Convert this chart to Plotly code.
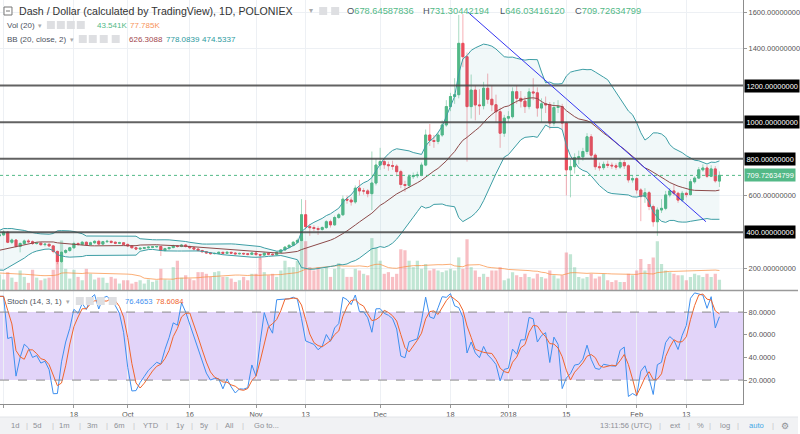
import pandas as pd
import plotly.graph_objects as go

# ---------------- data (daily, 2017-08-13 .. 2018-02-21) ----------------
start_date = "2017-08-13"
end_date = "2018-02-21"

opens = [
    205, 215, 225, 230, 250, 240, 245, 265, 290, 300, 310, 320, 330, 335, 340, 345, 350, 370, 380,
    385, 400, 345, 357, 322, 338, 352, 348, 338, 340, 332, 334, 325, 295, 240, 290, 300, 315, 338, 333,
    345, 332, 342, 350, 335, 348, 350, 345, 340, 342,
    333, 325, 315, 308, 312, 315, 318, 320, 322, 300, 310, 316, 325, 322, 330, 322, 315, 308, 300, 293,
    287, 283, 284, 290, 285, 290, 286, 282, 284, 282, 279,
    286, 278, 275, 285, 280, 277, 290, 303, 318, 328, 345, 355, 495, 430, 425, 420, 415, 425, 457, 440,
    480, 495, 580, 575, 565, 640, 625, 625, 610, 668,
    766, 785, 768, 763, 760, 730, 660, 655, 703, 708, 712, 766, 930, 900, 895, 930, 985, 1085, 1140, 1150,
    1430, 1357, 1085, 1175, 1094, 1090, 1185, 1125, 1095, 1057, 940,
    1022, 1030, 1166, 1130, 1115, 1085, 1165, 1160, 1077, 1100, 1095, 995, 1080, 1085, 995, 740, 757, 806, 811, 840,
    920, 820, 757, 752, 770, 765, 762, 755, 780, 762, 685,
    692, 630, 594, 615, 540, 457, 521, 530, 603, 625, 612, 575, 612, 605, 675, 695, 740, 750, 705, 745, 678.65,
]
highs = [
    222, 232, 238, 258, 255, 250, 272, 298, 310, 318, 328, 338, 342, 348, 352, 358, 378, 390, 395,
    410, 405, 365, 362, 345, 360, 362, 355, 346, 345, 340, 338, 330, 300, 295, 308, 320, 348, 345, 352,
    350, 348, 356, 358, 352, 358, 355, 350, 348, 346,
    338, 330, 320, 316, 318, 322, 324, 326, 325, 315, 320, 332, 330, 335, 334, 326, 318, 312, 304, 297,
    292, 288, 294, 293, 294, 293, 290, 288, 288, 286, 290,
    290, 282, 290, 288, 284, 294, 308, 324, 335, 352, 365, 580, 575, 445, 438, 432, 432, 465, 468, 490,
    505, 600, 600, 590, 655, 685, 640, 635, 840, 800,
    860, 800, 785, 790, 770, 740, 680, 715, 725, 730, 780, 960, 990, 930, 945, 1010, 1120, 1160, 1240, 1585,
    1590, 1380, 1260, 1200, 1180, 1220, 1265, 1200, 1150, 1080, 1040,
    1060, 1190, 1200, 1170, 1140, 1185, 1240, 1190, 1130, 1140, 1110, 1110, 1120, 1100, 1000, 800, 830, 845, 860, 940,
    935, 830, 780, 785, 790, 780, 775, 800, 795, 770, 710,
    700, 640, 640, 625, 550, 535, 580, 625, 640, 660, 620, 625, 620, 690, 705, 755, 770, 765, 765, 760, 731.30,
]
lows = [
    200, 210, 220, 226, 236, 236, 242, 260, 284, 295, 305, 315, 325, 330, 335, 340, 345, 362, 372,
    380, 340, 335, 315, 290, 330, 340, 330, 332, 325, 322, 318, 285, 225, 232, 282, 292, 310, 325, 328,
    325, 326, 336, 330, 330, 342, 338, 334, 335, 328,
    320, 310, 302, 303, 307, 310, 314, 315, 270, 295, 305, 312, 315, 318, 316, 308, 300, 294, 288, 282,
    278, 279, 280, 280, 281, 281, 277, 278, 276, 273, 275,
    270, 250, 270, 274, 271, 274, 286, 298, 312, 322, 340, 350, 415, 380, 405, 385, 408, 418, 425, 435,
    472, 488, 555, 545, 555, 600, 605, 590, 520, 655,
    740, 745, 735, 740, 705, 640, 620, 640, 690, 695, 705, 760, 870, 860, 880, 920, 975, 1060, 1100, 1130,
    1300, 785, 1020, 1010, 1040, 1070, 1100, 1060, 1000, 860, 920,
    1000, 1020, 1100, 1080, 1050, 1070, 1120, 1030, 1000, 1050, 960, 980, 1050, 960, 600, 590, 720, 770, 790, 825,
    800, 740, 735, 740, 750, 745, 740, 745, 745, 670, 670,
    610, 460, 560, 520, 430, 380, 505, 520, 590, 600, 560, 565, 590, 600, 665, 690, 730, 695, 700, 670, 646.03,
]
closes = [
    215, 225, 230, 250, 240, 245, 265, 290, 300, 310, 320, 330, 335, 340, 345, 350, 370, 380, 385,
    400, 345, 357, 322, 338, 352, 348, 338, 340, 332, 334, 325, 295, 240, 290, 300, 315, 338, 333, 345,
    332, 342, 350, 335, 348, 350, 345, 340, 342, 333,
    325, 315, 308, 312, 315, 318, 320, 322, 300, 310, 316, 325, 322, 330, 322, 315, 308, 300, 293, 287,
    283, 284, 290, 285, 290, 286, 282, 284, 282, 279, 286,
    278, 275, 285, 280, 277, 290, 303, 318, 328, 345, 355, 495, 430, 425, 420, 415, 425, 457, 440, 480,
    495, 580, 575, 565, 640, 625, 625, 610, 668, 766,
    785, 768, 763, 760, 730, 660, 655, 703, 708, 712, 766, 930, 900, 895, 930, 985, 1085, 1140, 1150, 1430,
    1357, 1085, 1175, 1094, 1090, 1185, 1125, 1095, 1057, 940, 1022,
    1030, 1166, 1130, 1115, 1085, 1165, 1160, 1077, 1100, 1095, 995, 1080, 1085, 995, 740, 757, 806, 811, 840, 920,
    820, 757, 752, 770, 765, 762, 755, 780, 762, 685, 692,
    630, 594, 615, 540, 457, 521, 530, 603, 625, 612, 575, 612, 605, 675, 695, 740, 750, 705, 745, 680, 709.73,
]
volumes_k = [
    60, 75, 90, 80, 65, 70, 85, 95, 70, 60, 65, 55, 70, 60, 65, 75, 80, 70, 65,
    44, 75, 52, 34, 82, 55, 30, 85, 52, 41, 48, 52, 85, 123, 208, 89, 48, 85, 55, 41,
    89, 68, 44, 52, 52, 30, 55, 48, 27, 41,
    41, 27, 34, 41, 27, 44, 34, 41, 89, 44, 41, 96, 123, 52, 62, 48, 41, 75, 75, 68,
    55, 75, 79, 55, 55, 48, 34, 41, 55, 41, 68,
    68, 137, 75, 62, 68, 55, 82, 123, 96, 96, 123, 218, 205, 96, 82, 96, 89, 96, 55, 89,
    113, 89, 55, 55, 89, 82, 68, 62, 218, 178,
    123, 68, 75, 55, 68, 171, 167, 123, 96, 123, 89, 109, 82, 89, 82, 75, 82, 89, 82, 137,
    89, 213, 96, 82, 55, 68, 55, 82, 82, 96, 41,
    48, 75, 62, 55, 68, 55, 48, 68, 55, 48, 82, 62, 48, 62, 157, 150, 96, 55, 48, 55,
    68, 48, 57, 68, 41, 34, 41, 34, 34, 68, 62,
    82, 130, 82, 109, 137, 205, 109, 82, 75, 68, 62, 62, 41, 55, 68, 62, 55, 68, 55, 68, 43.541,
]

hline_levels = [400, 800, 1000, 1200]
last_price = 709.72634799
trend_dates = ["2017-12-22 05:00", "2018-02-17 18:00"]
trend_prices = [1600, 457]

x_tick_dates = ["2017-09-01", "2017-09-18", "2017-10-01", "2017-10-16", "2017-11-01", "2017-11-13",
                "2017-12-01", "2017-12-18", "2018-01-01", "2018-01-15", "2018-02-01", "2018-02-13"]
x_tick_text = ["Sep", "18", "Oct", "16", "Nov", "13", "Dec", "18", "2018", "15", "Feb", "13"]
price_ticks = [200, 400, 600, 800, 1000, 1200, 1400, 1600]
stoch_ticks = [20, 40, 60, 80]

# ---------------- indicators ----------------
dates = pd.date_range(start_date, end_date, freq="D")
df = pd.DataFrame({"o": opens, "h": highs, "l": lows, "c": closes, "v": volumes_k}, index=dates)
mid = df.c.rolling(20, min_periods=19).mean()
sd = df.c.rolling(20, min_periods=19).std(ddof=0)
bb_up = mid + 2 * sd
bb_lo = mid - 2 * sd
vol_ma = df.v.rolling(20, min_periods=19).mean()
hh = df.h.rolling(14).max()
ll = df.l.rolling(14).min()
stoch_k = 100 * (df.c - ll) / (hh - ll)
stoch_d = stoch_k.rolling(3).mean()
body_hi = df[["o", "c"]].max(axis=1)
body_lo = df[["o", "c"]].min(axis=1)

UP = "#53b987"
DN = "#eb4d5c"
FONT = "Liberation Sans, Arial, sans-serif"
W, H = 800, 434
XR = 745 / W


def PX(x):
    return x / W


def PY(y):
    return 1 - y / H


fig = go.Figure()

# volume (base axis)
vcol = ["rgba(83,185,135,0.36)" if c >= o else "rgba(235,77,92,0.36)" for o, c in zip(df.o, df.c)]
fig.add_trace(go.Bar(x=dates, y=df.v, marker=dict(color=vcol, line=dict(width=0)),
                     width=0.78 * 86400000, xaxis="x", yaxis="y"))
fig.add_trace(go.Scatter(x=dates, y=vol_ma, mode="lines", line=dict(color="rgba(250,140,60,0.7)", width=1),
                         xaxis="x", yaxis="y"))

# bollinger
fig.add_trace(go.Scatter(x=dates, y=bb_up, mode="lines", line=dict(color="#3d9ea5", width=1),
                         xaxis="x", yaxis="y2"))
fig.add_trace(go.Scatter(x=dates, y=bb_lo, mode="lines", line=dict(color="#3d9ea5", width=1),
                         fill="tonexty", fillcolor="rgba(61,158,165,0.07)", xaxis="x", yaxis="y2"))
fig.add_trace(go.Scatter(x=dates, y=mid, mode="lines", line=dict(color="#8c4a4a", width=1),
                         xaxis="x", yaxis="y2"))

# candles: wicks (pale) then solid bodies
fig.add_trace(go.Candlestick(x=dates, open=df.o, high=df.h, low=df.l, close=df.c,
                             increasing=dict(line=dict(color="rgba(83,185,135,0.5)", width=1),
                                             fillcolor="rgba(83,185,135,0.5)"),
                             decreasing=dict(line=dict(color="rgba(235,77,92,0.45)", width=1),
                                             fillcolor="rgba(235,77,92,0.45)"),
                             whiskerwidth=0, xaxis="x", yaxis="y2"))
fig.add_trace(go.Candlestick(x=dates, open=df.o, high=body_hi, low=body_lo, close=df.c,
                             increasing=dict(line=dict(color=UP, width=1), fillcolor=UP),
                             decreasing=dict(line=dict(color=DN, width=1), fillcolor=DN),
                             whiskerwidth=0, xaxis="x", yaxis="y2"))

# stochastic
fig.add_trace(go.Scatter(x=dates, y=stoch_k, mode="lines", line=dict(color="#3d8fef", width=1),
                         xaxis="x2", yaxis="y3"))
fig.add_trace(go.Scatter(x=dates, y=stoch_d, mode="lines", line=dict(color="#f0652c", width=1),
                         xaxis="x2", yaxis="y3"))

main_dom = [PY(290), 1]
stoch_dom = [PY(404), PY(291)]
xrange_ = ["2017-08-31 03:10", "2018-02-26 17:30"]
grid = "#edf0f4"
tickfont = dict(family=FONT, size=7.4, color="#555")
# tick labels under the drawn-level boxes are covered in the reference; label only the free ones
price_tick_labels = [p for p in price_ticks if p not in hline_levels]

fig.update_layout(
    width=W, height=H, margin=dict(l=0, r=0, t=0, b=0),
    paper_bgcolor="white", plot_bgcolor="white", showlegend=False,
    xaxis=dict(domain=[0, XR], range=xrange_, type="date", anchor="y", showticklabels=False,
               tickvals=x_tick_dates, showgrid=True, gridcolor=grid, zeroline=False,
               rangeslider=dict(visible=False), fixedrange=True),
    yaxis=dict(domain=main_dom, range=[0, 1218], visible=False, anchor="x", fixedrange=True),
    yaxis2=dict(domain=main_dom, overlaying="y", side="right", anchor="x", range=[84.5, 1666.5],
                tickvals=price_tick_labels, tickformat=".8f", tickfont=tickfont, ticks="outside", ticklen=3,
                tickcolor="#999", showgrid=True, gridcolor=grid, zeroline=False, showline=True,
                linecolor="#8c8c8c", linewidth=1),
    xaxis2=dict(domain=[0, XR], matches="x", type="date", anchor="y3", tickvals=x_tick_dates,
                ticktext=x_tick_text, tickfont=tickfont, ticks="outside", ticklen=3, tickcolor="#999",
                showgrid=True, gridcolor=grid, showline=True, linecolor="#8c8c8c", zeroline=False),
    yaxis3=dict(domain=stoch_dom, range=[-1.1, 98.6], side="right", anchor="x2", tickvals=stoch_ticks,
                tickformat=".4f", tickfont=tickfont, ticks="outside", ticklen=3, tickcolor="#999",
                showgrid=False, zeroline=False, showline=True, linecolor="#8c8c8c"),
)

shapes = []
# stoch band & dashed levels
shapes.append(dict(type="rect", xref="paper", yref="y3", x0=0, x1=XR, y0=20, y1=80,
                   fillcolor="rgb(226,212,249)", line=dict(width=0), layer="below"))
for lv in (20, 80):
    shapes.append(dict(type="line", xref="paper", yref="y3", x0=0, x1=XR, y0=lv, y1=lv,
                       line=dict(color="#8a8a8a", width=1, dash="dash"), layer="above"))
# horizontal drawn levels
for lv in hline_levels:
    shapes.append(dict(type="line", xref="paper", yref="y2", x0=0, x1=XR, y0=lv, y1=lv,
                       line=dict(color="rgba(70,70,70,0.85)", width=2), layer="above"))
# last price dotted line
shapes.append(dict(type="line", xref="paper", yref="y2", x0=0, x1=XR, y0=last_price, y1=last_price,
                   line=dict(color=UP, width=1, dash="dot"), layer="above"))
# trend line
shapes.append(dict(type="line", xref="x", yref="y2", x0=trend_dates[0], x1=trend_dates[1],
                   y0=trend_prices[0], y1=trend_prices[1], line=dict(color="#3535f0", width=1), layer="above"))
# pane separator
shapes.append(dict(type="line", xref="paper", yref="paper", x0=0, x1=1, y0=PY(290.5), y1=PY(290.5),
                   line=dict(color="#9a9a9a", width=1.5)))
# bottom toolbar
shapes.append(dict(type="rect", xref="paper", yref="paper", x0=0, x1=1, y0=0, y1=PY(417),
                   fillcolor="#f1f2f4", line=dict(width=0)))
shapes.append(dict(type="line", xref="paper", yref="paper", x0=0, x1=1, y0=PY(417), y1=PY(417),
                   line=dict(color="#e2e4e8", width=1)))
# collapse icon
shapes.append(dict(type="rect", xref="paper", yref="paper", x0=PX(4), x1=PX(12), y0=PY(15), y1=PY(7),
                   line=dict(color="#777", width=1), fillcolor="white"))
shapes.append(dict(type="line", xref="paper", yref="paper", x0=PX(6), x1=PX(10), y0=PY(11), y1=PY(11),
                   line=dict(color="#777", width=1)))


def buttons(xs, ytop, size=8):
    for x0 in xs:
        shapes.append(dict(type="rect", xref="paper", yref="paper", x0=PX(x0), x1=PX(x0 + size),
                           y0=PY(ytop + size), y1=PY(ytop), fillcolor="#dedfe2", line=dict(width=0)))


buttons([320, 332], 7)
buttons([47, 57, 67, 77], 21)
buttons([79, 89, 100, 112], 35)
buttons([76, 86, 97, 109], 297)

fig.update_layout(shapes=shapes)

ann = []


def txt(x, y, s, color="#4c525e", size=8, anchor="left"):
    ann.append(dict(x=PX(x), y=PY(y), xref="paper", yref="paper", text=s, showarrow=False,
                    xanchor=anchor, yanchor="middle", font=dict(family=FONT, size=size, color=color)))


# header
txt(17, 11, "Dash / Dollar (calculated by TradingView), 1D, POLONIEX", "#333", 10.6)
txt(308, 11, "▾", "#aaa", 8)
ohlc_full = ["678.64587836", "731.30442194", "646.03416120", "709.72634799"]
for xx, letter, val in zip([346, 422, 499, 574], ["O", "H", "L", "C"], ohlc_full):
    txt(xx, 11, f"<span style='color:#4c525e'>{letter}</span><span style='color:{UP}'>{val}</span>",
        UP, 9.3)
txt(5, 25, "Vol (20)", "#4c525e", 8)
txt(36, 25, "▾", "#aaa", 7)
txt(95, 25, "43.541K", UP, 8)
txt(128, 25, "77.785K", "#f7935a", 8)
txt(5, 39, "BB (20, close, 2)", "#4c525e", 8)
txt(68, 39, "▾", "#aaa", 7)
txt(127, 39, "626.3088", "#a2474f", 8)
txt(164, 39, "778.0839", "#2d9aa0", 8)
txt(201, 39, "474.5337", "#2d9aa0", 8)
txt(5, 301, "Stoch (14, 3, 1)", "#4c525e", 8)
txt(64, 301, "▾", "#aaa", 7)
txt(123, 301, "76.4653", "#3d8fef", 7.6)
txt(154, 301, "78.6084", "#f0652c", 7.6)

# price scale labels for drawn levels and last price
for lv in hline_levels:
    ann.append(dict(x=PX(745.5), y=lv, xref="paper", yref="y2", text=f"{lv:.8f}", showarrow=False,
                    xanchor="left", yanchor="middle", bgcolor="black", borderpad=1.5,
                    font=dict(family=FONT, size=7.4, color="white")))
ann.append(dict(x=PX(745.5), y=last_price, xref="paper", yref="y2", text=f"{last_price:.8f}",
                showarrow=False, xanchor="left", yanchor="middle", bgcolor=UP, borderpad=1.5,
                font=dict(family=FONT, size=7.4, color="white")))

# bottom toolbar
tb_left = [(15, "1d"), (27, "|"), (37, "5d"), (53, "|"), (65, "1m"), (80, "|"), (93, "3m"), (107, "|"),
           (120, "6m"), (134, "|"), (151, "YTD"), (167, "|"), (180, "1y"), (192, "|"), (205, "5y"),
           (218, "|"), (230, "All"), (244, "|"), (267, "Go to...")]
for xx, s in tb_left:
    txt(xx, 425.5, s, "#c4c6ca" if s == "|" else "#8d9096", 7.6, "center")
tb_right = [(628, "13:11:56 (UTC)"), (662, "|"), (677, "ext"), (691, "|"), (702, "%"), (712, "|"),
            (727, "log"), (740, "|"), (758, "auto"), (775, "|"), (787, "⚙")]
for xx, s in tb_right:
    col = "#c4c6ca" if s == "|" else ("#45a8e6" if s == "auto" else "#8d9096")
    txt(xx, 425.5, s, col, 7.6 if s != "⚙" else 9, "center")

fig.update_layout(annotations=ann)
fig.write_html("out.html")
